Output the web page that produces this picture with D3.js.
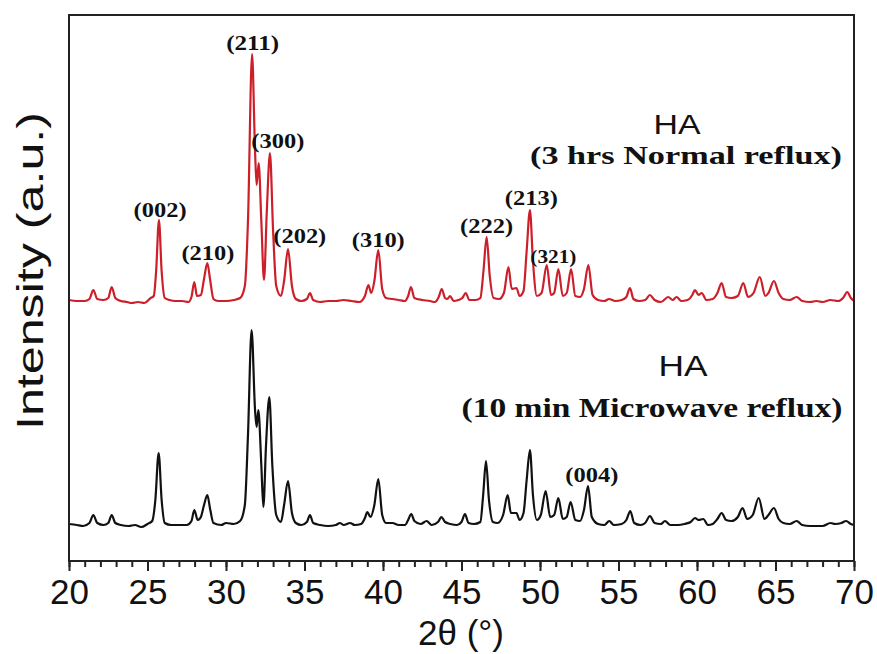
<!DOCTYPE html>
<html>
<head>
<meta charset="utf-8">
<script src="https://cdn.jsdelivr.net/npm/d3@7"></script>
<style>
  body { margin: 0; background: #fff; }
  svg { display: block; }
  .frame { fill: none; stroke: #222; stroke-width: 2; }
  .trace { fill: none; stroke-width: 2.2; stroke-linejoin: round; }
  .tick-label { font-family: "Liberation Sans", Arial, sans-serif; font-size: 35px; fill: #111; }
  .hkl { font-family: "Liberation Serif", "Times New Roman", serif; font-weight: bold; fill: #111; }
</style>
</head>
<body>
<div id="chart"></div>
<script>
// [2theta, intensity], each trace above its own baseline
const normalReflux = [
  [20.0, 1], [20.5, 0], [21.0, 0], [21.3, 2], [21.55, 11], [21.8, 2], [22.2, 1], [22.5, 3],
  [22.72, 14], [22.95, 3], [23.3, 0], [23.7, -1], [24.0, -2], [24.4, -1], [24.8, -2], [25.2, 3],
  [25.4, 5], [25.55, 30], [25.73, 81], [25.9, 30], [26.1, 3], [26.4, 1], [26.8, 0], [27.2, 0],
  [27.6, -1], [27.8, 4], [27.98, 19], [28.15, 5], [28.4, 6], [28.6, 22], [28.81, 38], [29.0, 20],
  [29.2, 2], [29.5, 0], [30.0, 0], [30.5, 1], [30.9, 3], [31.2, 15], [31.4, 80], [31.66, 247],
  [31.85, 150], [31.95, 116], [32.08, 138], [32.25, 80], [32.42, 21], [32.6, 90], [32.8, 148],
  [33.0, 70], [33.2, 15], [33.5, 5], [33.7, 20], [33.95, 52], [34.2, 15], [34.45, 2], [34.8, 0],
  [35.15, 2], [35.35, 8], [35.55, 1], [36.0, -1], [36.5, 0], [37.0, 0], [37.5, 1], [38.0, 0],
  [38.5, -1], [38.85, 5], [39.07, 16], [39.25, 8], [39.45, 20], [39.7, 51], [39.95, 12], [40.2, 3],
  [40.6, 2], [41.0, 1], [41.4, 0], [41.6, 5], [41.78, 14], [42.0, 3], [42.5, 1], [43.0, 0],
  [43.3, -1], [43.55, 4], [43.74, 12], [43.95, 3], [44.1, 2], [44.27, 5], [44.5, 0], [44.8, 1],
  [45.05, 3], [45.27, 8], [45.5, 1], [45.9, 1], [46.2, 3], [46.4, 30], [46.6, 64], [46.8, 25],
  [47.05, 3], [47.4, 2], [47.7, 8], [47.99, 34], [48.2, 12], [48.5, 13], [48.7, 5], [48.95, 10],
  [49.15, 50], [49.36, 91], [49.55, 40], [49.8, 5], [50.1, 8], [50.43, 36], [50.7, 6], [50.9, 8],
  [51.17, 32], [51.45, 5], [51.7, 8], [51.98, 32], [52.25, 5], [52.55, 4], [52.8, 12], [53.08, 36],
  [53.35, 6], [53.7, 1], [54.1, 0], [54.4, 2], [54.8, 0], [55.2, 1], [55.5, 4], [55.73, 13],
  [55.95, 2], [56.3, 0], [56.7, 1], [57.0, 6], [57.3, 1], [57.7, -1], [58.17, 4], [58.45, 1],
  [58.7, 4], [59.0, 0], [59.4, 1], [59.7, 6], [59.87, 11], [60.1, 6], [60.3, 8], [60.6, 1],
  [61.0, 2], [61.3, 8], [61.57, 18], [61.85, 4], [62.2, 3], [62.6, 5], [62.95, 18], [63.25, 4],
  [63.6, 8], [64.0, 24], [64.35, 5], [64.55, 8], [64.9, 20], [65.2, 8], [65.5, 2], [65.9, 1],
  [66.35, 4], [66.7, 0], [67.2, -1], [67.6, 0], [68.0, -1], [68.5, 1], [69.0, 0], [69.3, 3],
  [69.57, 9], [69.8, 3], [70.0, 0]
];

const microwaveReflux = [
  [20.0, 1], [20.5, 0], [20.9, -1], [21.3, 2], [21.55, 10], [21.8, 2], [22.2, 0], [22.5, 2],
  [22.72, 10], [22.95, 2], [23.3, 0], [23.8, -1], [24.2, 0], [24.6, -2], [25.0, 1], [25.3, 4],
  [25.5, 25], [25.71, 72], [25.9, 25], [26.1, 2], [26.5, 0], [27.0, 0], [27.5, 0], [27.8, 4],
  [27.98, 15], [28.2, 5], [28.4, 8], [28.6, 20], [28.81, 30], [29.0, 15], [29.2, 2], [29.7, 0],
  [30.0, 2], [30.5, 1], [30.9, 4], [31.2, 20], [31.4, 90], [31.63, 195], [31.85, 115], [31.95, 98],
  [32.06, 115], [32.25, 60], [32.38, 18], [32.55, 80], [32.76, 128], [32.95, 60], [33.2, 10],
  [33.5, 3], [33.7, 20], [33.95, 44], [34.2, 12], [34.45, 2], [34.8, 0], [35.15, 3], [35.35, 10],
  [35.55, 2], [36.0, 0], [36.5, -1], [37.0, 0], [37.26, 2], [37.5, 0], [37.9, 2], [38.2, 0],
  [38.6, 1], [38.85, 7], [39.0, 13], [39.2, 8], [39.45, 20], [39.7, 46], [39.95, 10], [40.2, 2],
  [40.6, 2], [41.0, 0], [41.4, 0], [41.6, 5], [41.8, 11], [42.0, 4], [42.4, 1], [42.78, 4],
  [43.1, 0], [43.5, 3], [43.72, 8], [43.95, 3], [44.3, 1], [44.7, 0], [45.0, 3], [45.22, 11],
  [45.45, 2], [45.8, 1], [46.2, 3], [46.38, 30], [46.56, 64], [46.75, 25], [47.0, 3], [47.3, 2],
  [47.65, 10], [47.94, 30], [48.15, 12], [48.5, 12], [48.7, 5], [48.95, 12], [49.15, 45],
  [49.36, 75], [49.55, 30], [49.8, 5], [50.05, 10], [50.36, 34], [50.65, 8], [50.9, 10],
  [51.17, 27], [51.45, 6], [51.7, 8], [51.95, 23], [52.25, 5], [52.55, 4], [52.8, 15], [53.06, 39],
  [53.3, 8], [53.7, 1], [54.1, 0], [54.41, 4], [54.7, 0], [55.2, 1], [55.5, 5], [55.75, 14],
  [56.0, 2], [56.4, 0], [56.7, 2], [57.0, 9], [57.3, 2], [57.7, 1], [57.96, 4], [58.3, 0],
  [58.8, 0], [59.2, 1], [59.6, 3], [59.87, 7], [60.1, 5], [60.4, 6], [60.7, 0], [61.0, 1],
  [61.3, 6], [61.57, 12], [61.85, 5], [62.2, 4], [62.6, 8], [62.9, 17], [63.2, 6], [63.55, 10],
  [63.93, 27], [64.3, 6], [64.55, 10], [64.9, 17], [65.2, 6], [65.5, 2], [65.9, 1], [66.35, 4],
  [66.7, 0], [67.2, -1], [67.6, -1], [68.0, -1], [68.5, 2], [68.8, 1], [69.2, 2], [69.5, 4],
  [69.8, 1], [70.0, 0]
];

// hkl labels: [text, 2theta of label centre, intensity of label baseline, series]
const hklLabels = [
  ['(002)', 25.8, 84, 'normal'],
  ['(210)', 28.85, 41, 'normal'],
  ['(211)', 31.7, 251, 'normal'],
  ['(300)', 33.3, 153, 'normal'],
  ['(202)', 34.7, 58, 'normal'],
  ['(310)', 39.7, 54, 'normal'],
  ['(222)', 46.6, 68, 'normal'],
  ['(213)', 49.45, 96, 'normal'],
  ['(321)', 50.85, 38, 'normal'],
  ['(004)', 53.3, 43, 'microwave']
];

const xTicks = [20, 25, 30, 35, 40, 45, 50, 55, 60, 65, 70];

const width = 877;
const height = 654;
const margin = { top: 15, right: 23, bottom: 93, left: 69 };
const baseline = { normal: 260, microwave: 36 };   // vertical stacking offsets

const svg = d3.select('#chart').append('svg')
  .attr('width', width)
  .attr('height', height);

const x = d3.scaleLinear()
  .domain([20, 70])
  .range([margin.left, width - margin.right]);

const y = d3.scaleLinear()
  .domain([0, 546])
  .range([height - margin.bottom, margin.top]);

// traces
const line = off => d3.line()
  .x(d => x(d[0]))
  .y(d => y(d[1] + off))
  .curve(d3.curveMonotoneX);

svg.append('path')
  .attr('class', 'trace')
  .attr('stroke', '#111')
  .attr('d', line(baseline.microwave)(microwaveReflux));

svg.append('path')
  .attr('class', 'trace')
  .attr('stroke', '#cc1f2a')
  .attr('d', line(baseline.normal)(normalReflux));

// box
svg.append('rect')
  .attr('class', 'frame')
  .attr('x', x(20))
  .attr('y', y(546))
  .attr('width', x(70) - x(20))
  .attr('height', y(0) - y(546));

// bottom axis, minor ticks every degree
const xAxis = d3.axisBottom(x)
  .tickValues(d3.range(20, 71, 1))
  .tickSize(6)
  .tickFormat('');

svg.append('g')
  .attr('transform', `translate(0,${y(0)})`)
  .call(xAxis)
  .call(g => g.select('.domain').remove())
  .call(g => g.selectAll('line').attr('stroke', '#222').attr('stroke-width', 2));

const xAxisMajor = d3.axisBottom(x)
  .tickValues(xTicks)
  .tickSize(10)
  .tickPadding(6);

svg.append('g')
  .attr('transform', `translate(0,${y(0)})`)
  .call(xAxisMajor)
  .call(g => g.select('.domain').remove())
  .call(g => g.selectAll('line').attr('stroke', '#222').attr('stroke-width', 2))
  .call(g => g.selectAll('text')
    .attr('class', 'tick-label')
    .attr('dy', null)
    .attr('y', 43));

// axis titles
svg.append('text')
  .attr('class', 'tick-label')
  .attr('x', 461)
  .attr('y', 645)
  .attr('text-anchor', 'middle')
  .text('2θ (°)');

svg.append('text')
  .attr('class', 'tick-label')
  .attr('transform', 'translate(43,271) rotate(-90)')
  .attr('text-anchor', 'middle')
  .style('font-size', '37px')
  .attr('textLength', 318)
  .attr('lengthAdjust', 'spacingAndGlyphs')
  .text('Intensity (a.u.)');

// sample labels
const sampleLabels = [
  { name: 'HA', cx: 677, by: 134, size: 28, len: 47, serif: false },
  { name: '(3 hrs Normal reflux)', cx: 686, by: 164, size: 26, len: 312, serif: true },
  { name: 'HA', cx: 683, by: 376, size: 30, len: 49, serif: false },
  { name: '(10 min Microwave reflux)', cx: 652, by: 417, size: 28, len: 381, serif: true }
];

svg.selectAll('.sample')
  .data(sampleLabels)
  .enter()
  .append('text')
  .attr('class', d => d.serif ? 'sample hkl' : 'sample tick-label')
  .attr('x', d => d.cx)
  .attr('y', d => d.by)
  .attr('text-anchor', 'middle')
  .style('font-size', d => `${d.size}px`)
  .attr('textLength', d => d.len)
  .attr('lengthAdjust', 'spacingAndGlyphs')
  .text(d => d.name);

// Miller indices
svg.selectAll('.hkl-label')
  .data(hklLabels)
  .enter()
  .append('text')
  .attr('class', 'hkl hkl-label')
  .attr('x', d => x(d[1]))
  .attr('y', d => y(d[2] + baseline[d[3]]))
  .attr('text-anchor', 'middle')
  .style('font-size', d => d[0] === '(321)' ? '18px' : '20px')
  .attr('textLength', d => d[0] === '(321)' ? 46 : 53)
  .attr('lengthAdjust', 'spacingAndGlyphs')
  .text(d => d[0]);
</script>
</body>
</html>
